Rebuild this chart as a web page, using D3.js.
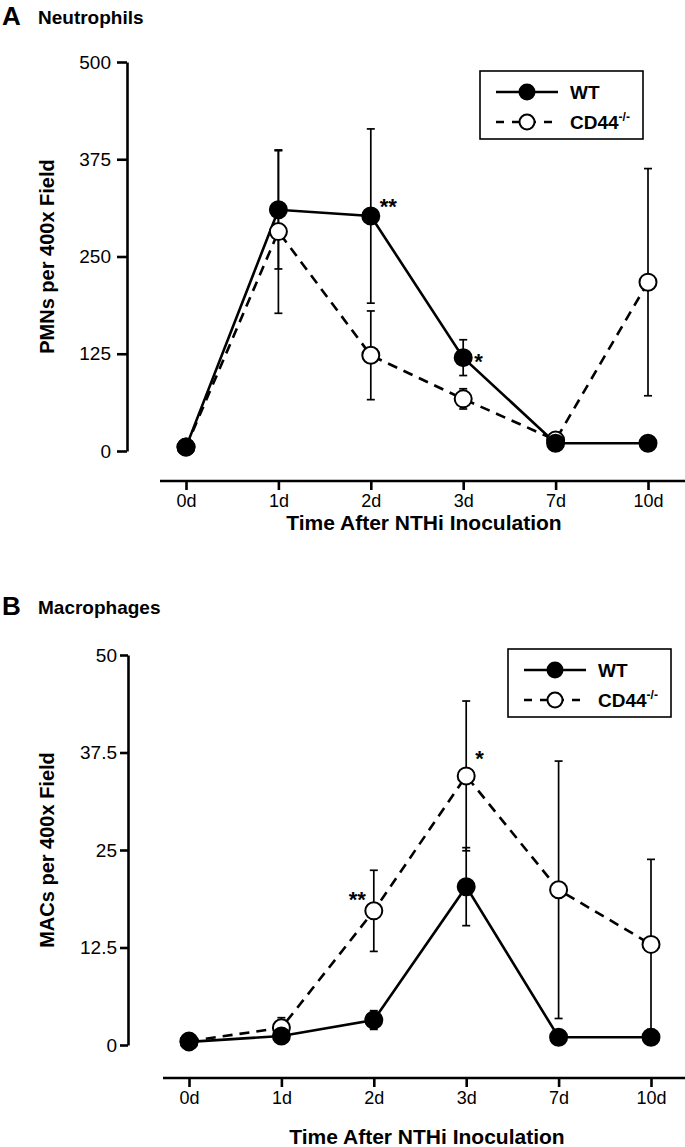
<!DOCTYPE html>
<html><head><meta charset="utf-8">
<script src="https://cdn.jsdelivr.net/npm/d3@7/dist/d3.min.js"></script>
<style>
html,body{margin:0;padding:0;background:#fff;}
svg{display:block;}
text{font-family:"Liberation Sans",Arial,sans-serif;fill:#000;}
</style></head>
<body>
<svg id="chart" width="685" height="1147"></svg>
<script>
const categories = ["0d","1d","2d","3d","7d","10d"];

// Panel A: Neutrophils (PMNs per 400x field)
const pmnTicks = [0,125,250,375,500];
const pmnWT = [5,310,302,120,10,10];
const pmnWTerr = [0,76,112,23,0,0];
const pmnKO = [5,282,123,67,14,217];
const pmnKOerr = [0,105,57,13,0,146];

// Panel B: Macrophages (MACs per 400x field)
const macTicks = [0,12.5,25,37.5,50];
const macWT = [0.4,1.15,3.2,20.3,1.0,1.0];
const macWTerr = [0,0,1.2,5,0,0];
const macKO = [0.5,2.2,17.2,34.5,19.9,12.9];
const macKOerr = [0,1.3,5.2,9.6,16.5,10.9];

const svg = d3.select("#chart");

function panel(cfg){
  const g = svg.append("g");
  const y = d3.scaleLinear().domain([0, cfg.ymax]).range([cfg.y0, cfg.y1]);
  const x = d3.scalePoint().domain(categories).range([cfg.x0, cfg.x1]);

  // titles
  g.append("text").attr("x",2).attr("y",cfg.titleY+1).attr("font-size",26).attr("font-weight","bold").text(cfg.letter);
  g.append("text").attr("x",38).attr("y",cfg.titleY).attr("font-size",19).attr("font-weight","bold").text(cfg.title);

  // y axis
  const ya = g.append("g").attr("transform",`translate(${cfg.axisX},0)`)
    .call(d3.axisLeft(y).tickValues(cfg.ticks).tickSize(cfg.yTick).tickSizeOuter(0).tickPadding(cfg.yPad)
      .tickFormat(d=>String(d)));
  ya.select(".domain").attr("stroke","#000").attr("stroke-width",2.6);
  ya.selectAll(".tick line").attr("stroke","#000").attr("stroke-width",2.6);
  ya.selectAll(".tick text").attr("font-size",19).attr("font-family",null);

  g.append("text").attr("transform",`translate(${cfg.ylabX},${(cfg.y0+cfg.y1)/2}) rotate(-90)`)
    .attr("text-anchor","middle").attr("font-size",20).attr("font-weight","bold").text(cfg.ylabel);

  // x axis
  const xa = g.append("g").attr("transform",`translate(0,${cfg.axisY})`)
    .call(d3.axisBottom(x).tickSize(9).tickSizeOuter(0).tickPadding(4));
  xa.select(".domain").attr("d",`M${cfg.xAxisStart},0H685`).attr("stroke","#000").attr("stroke-width",2.6);
  xa.selectAll(".tick line").attr("stroke","#000").attr("stroke-width",2.6);
  xa.selectAll(".tick text").attr("font-size",18).attr("font-family",null);

  g.append("text").attr("x",(cfg.x0+cfg.x1)/2 + 7).attr("y",cfg.xlabY).attr("text-anchor","middle")
    .attr("font-size",21).attr("font-weight","bold").text("Time After NTHi Inoculation");

  const series = [
    {vals:cfg.ko, err:cfg.koErr, dash:"10,7", fill:"#fff"},
    {vals:cfg.wt, err:cfg.wtErr, dash:null, fill:"#000"}
  ];
  // error bars
  series.forEach(s=>{
    categories.forEach((c,i)=>{
      if(!s.err[i]) return;
      const cx = x(c), top = y(s.vals[i]+s.err[i]), bot = y(s.vals[i]-s.err[i]);
      g.append("line").attr("x1",cx).attr("x2",cx).attr("y1",top).attr("y2",bot).attr("stroke","#000").attr("stroke-width",1.7);
      [top,bot].forEach(yy=>g.append("line").attr("x1",cx-4).attr("x2",cx+4).attr("y1",yy).attr("y2",yy).attr("stroke","#000").attr("stroke-width",1.7));
    });
  });
  const line = d3.line().x((d,i)=>x(categories[i])).y(d=>y(d));
  series.forEach(s=>{
    g.append("path").attr("d",line(s.vals)).attr("fill","none").attr("stroke","#000")
      .attr("stroke-width",2.6).attr("stroke-dasharray",s.dash);
  });
  series.forEach(s=>{
    g.selectAll(null).data(s.vals).enter().append("circle")
      .attr("cx",(d,i)=>x(categories[i])).attr("cy",d=>y(d)).attr("r",8.5)
      .attr("fill",s.fill).attr("stroke","#000").attr("stroke-width",2);
  });

  // significance marks
  cfg.stars.forEach(st=>{
    const v = st.series==="wt" ? cfg.wt : cfg.ko;
    const i = categories.indexOf(st.cat);
    g.append("text").attr("x",x(st.cat)+st.dx).attr("y",y(v[i])+st.dy)
      .attr("text-anchor",st.anchor).attr("font-size",22).attr("font-weight","bold").text(st.text);
  });

  // legend
  const L = cfg.legend;
  g.append("rect").attr("x",L.x).attr("y",L.y).attr("width",L.w).attr("height",L.h)
    .attr("fill","#fff").attr("stroke","#000").attr("stroke-width",1.6);
  const rows = [
    {label:"WT", dash:null, fill:"#000"},
    {label:"CD44", sup:"-/-", dash:"8,8", fill:"#fff"}
  ];
  rows.forEach((r,k)=>{
    const ry = L.y + 21 + k*30;
    const lx0 = L.x+16, lx1 = L.x+78, mx = L.x+47;
    g.append("line").attr("x1",lx0).attr("x2",lx1).attr("y1",ry).attr("y2",ry).attr("stroke","#000")
      .attr("stroke-width",2.6).attr("stroke-dasharray",r.dash);
    g.append("circle").attr("cx",mx).attr("cy",ry).attr("r",7.5).attr("fill",r.fill).attr("stroke","#000").attr("stroke-width",2);
    const t = g.append("text").attr("x",L.x+90).attr("y",ry+7).attr("font-size",19).attr("font-weight","bold").text(r.label);
    if(r.sup) t.append("tspan").attr("dy",-8).attr("font-size",12).text(r.sup);
  });
}

panel({
  letter:"A", title:"Neutrophils", titleY:24,
  ymax:500, ticks:pmnTicks, y0:451, y1:62, axisX:127, yTick:10, yPad:6, ylabX:54,
  ylabel:"PMNs per 400x Field",
  x0:186, x1:648, axisY:481, xAxisStart:160, xlabY:530,
  wt:pmnWT, wtErr:pmnWTerr, ko:pmnKO, koErr:pmnKOerr,
  stars:[{series:"wt",cat:"2d",text:"**",dx:9,dy:-2,anchor:"start"},
         {series:"wt",cat:"3d",text:"*",dx:11,dy:11,anchor:"start"}],
  legend:{x:480,y:71,w:163,h:68}
});

panel({
  letter:"B", title:"Macrophages", titleY:614,
  ymax:50, ticks:macTicks, y0:1045, y1:655, axisX:128, yTick:8, yPad:3, ylabX:54,
  ylabel:"MACs per 400x Field",
  x0:189, x1:651, axisY:1078, xAxisStart:163, xlabY:1144,
  wt:macWT, wtErr:macWTerr, ko:macKO, koErr:macKOerr,
  stars:[{series:"ko",cat:"2d",text:"**",dx:-8,dy:-4,anchor:"end"},
         {series:"ko",cat:"3d",text:"*",dx:9,dy:-10,anchor:"start"}],
  legend:{x:508,y:649,w:163,h:68}
});
</script>
</body></html>
